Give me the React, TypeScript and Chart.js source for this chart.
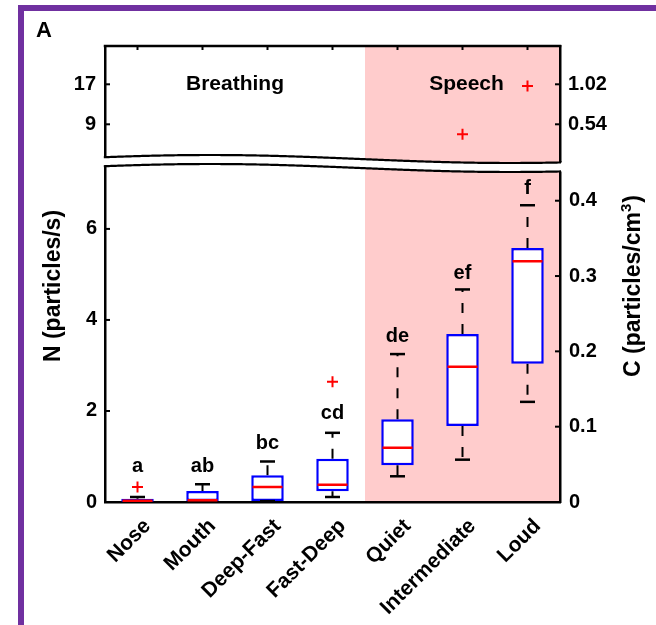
import React, { useEffect, useRef } from 'react';
import { Chart, registerables } from 'chart.js';
Chart.register(...registerables);

// ---- data ----
const categories = ['Nose', 'Mouth', 'Deep-Fast', 'Fast-Deep', 'Quiet', 'Intermediate', 'Loud'];
const whiskerLow = [0, 0.01, 0.02, 0.11, 0.565, 0.93, 2.2];
const q1 = [0.005, 0.02, 0.02, 0.235, 0.81, 1.67, 3.04];
const median = [0.03, 0.04, 0.33, 0.38, 1.19, 2.97, 5.29];
const q3 = [0.07, 0.24, 0.59, 0.95, 1.82, 3.69, 5.58];
const whiskerHigh = [0.11, 0.39, 0.89, 1.52, 3.25, 4.67, 6.52];
const outliersLow: (number | null)[] = [0.33, null, null, 2.64, null, null, null];
const outliersHigh: (number | null)[] = [null, null, null, null, null, 7.0, 16.66];
const letters = ['a', 'ab', 'bc', 'cd', 'de', 'ef', 'f'];
const letterY = [0.77, 0.78, 1.29, 1.95, 3.63, 5.03, 6.89];
const groupNames = ['Breathing', 'Speech'];
const leftTicksLow = [0, 2, 4, 6];
const leftTicksHigh = [9, 17];
const rightTicksLow = [0, 0.1, 0.2, 0.3, 0.4];
const rightTicksHigh = [0.54, 1.02];
const rangeLow = [0, 7.47];
const rangeHigh = [1.46, 24.66];
const rangeRightLow = [0, 0.4514];
const rangeRightHigh = [0.0876, 1.4796];

const FONT = '"Liberation Sans", Arial, sans-serif';
const BLUE = 'rgb(0,0,255)';
const RED = 'rgb(255,0,0)';
const PINK = 'rgb(255,204,204)';
const PURPLE = 'rgb(112,48,160)';

function fixedTicks(vals: number[]) {
  return (scale: any) => {
    scale.ticks = vals.map((v) => ({ value: v }));
  };
}
const plainLabel = (v: any) => String(v);

const decor = {
  id: 'decor',
  beforeDraw(chart: any) {
    const { ctx, chartArea: a, scales } = chart;
    ctx.save();
    ctx.fillStyle = '#fff';
    ctx.fillRect(0, 0, chart.width, chart.height);
    const x = scales.x;
    const xs = (x.getPixelForValue(3) + x.getPixelForValue(4)) / 2;
    ctx.fillStyle = PINK;
    ctx.fillRect(xs, a.top, a.right - xs, a.bottom - a.top);
    ctx.fillStyle = PURPLE;
    ctx.fillRect(18, 5, chart.width - 18, 6);
    ctx.fillRect(18, 5, 6, chart.height - 5);
    ctx.fillStyle = '#000';
    ctx.font = 'bold 22px ' + FONT;
    ctx.textAlign = 'left';
    ctx.textBaseline = 'alphabetic';
    ctx.fillText('A', 36, 37);
    ctx.restore();
  },
  afterDraw(chart: any) {
    const { ctx, chartArea: a, scales } = chart;
    const x = scales.x;
    const yBot = scales.yBot;
    const yTop = scales.yTop;
    const y2Bot = scales.y2Bot;
    const y2Top = scales.y2Top;
    ctx.save();

    // broken-axis wavy band
    const mid = yTop.bottom;
    const wave = (px: number) => mid - 3 - 4 * Math.cos((2 * Math.PI * (px - a.left - 105)) / 600);
    const gap = 9;
    const x0 = a.left - 4;
    const x1 = a.right + 4;
    ctx.beginPath();
    ctx.moveTo(x0, wave(x0));
    for (let px = x0; px <= x1; px++) ctx.lineTo(px, wave(px));
    for (let px = x1; px >= x0; px--) ctx.lineTo(px, wave(px) + gap);
    ctx.closePath();
    ctx.fillStyle = '#fff';
    ctx.fill();
    ctx.strokeStyle = '#000';
    ctx.lineWidth = 2.2;
    for (const off of [0, gap]) {
      ctx.beginPath();
      ctx.moveTo(a.left - 1.2, wave(a.left - 1.2) + off);
      for (let px = a.left; px <= a.right + 1.2; px++) ctx.lineTo(px, wave(px) + off);
      ctx.stroke();
    }

    // top border
    ctx.lineWidth = 2.5;
    ctx.beginPath();
    ctx.moveTo(a.left - 1.25, a.top);
    ctx.lineTo(a.right + 1.25, a.top);
    ctx.stroke();

    // inward tick marks
    ctx.lineWidth = 2;
    const tl = 5;
    for (const [sc, vals] of [[yBot, leftTicksLow], [yTop, leftTicksHigh]] as any) {
      for (const v of vals) {
        const py = sc.getPixelForValue(v);
        if (v === 0) continue;
        ctx.beginPath();
        ctx.moveTo(a.left, py);
        ctx.lineTo(a.left + tl, py);
        ctx.stroke();
      }
    }
    for (const [sc, vals] of [[y2Bot, rightTicksLow], [y2Top, rightTicksHigh]] as any) {
      for (const v of vals) {
        if (v === 0) continue;
        const py = sc.getPixelForValue(v);
        ctx.beginPath();
        ctx.moveTo(a.right, py);
        ctx.lineTo(a.right - tl, py);
        ctx.stroke();
      }
    }
    for (let i = 0; i < categories.length; i++) {
      const px = x.getPixelForValue(i);
      ctx.beginPath();
      ctx.moveTo(px, a.top);
      ctx.lineTo(px, a.top + 4);
      ctx.stroke();
    }

    // significance letters
    ctx.fillStyle = '#000';
    ctx.font = 'bold 20px ' + FONT;
    ctx.textAlign = 'center';
    ctx.textBaseline = 'middle';
    letters.forEach((t, i) => {
      ctx.fillText(t, x.getPixelForValue(i), yBot.getPixelForValue(letterY[i]));
    });

    // group names
    ctx.font = 'bold 21px ' + FONT;
    ctx.textBaseline = 'alphabetic';
    const gy = yTop.getPixelForValue(17) + 6;
    ctx.fillText(groupNames[0], (x.getPixelForValue(1) + x.getPixelForValue(2)) / 2, gy);
    ctx.fillText(groupNames[1], x.getPixelForValue(5) + 4, gy);

    // axis titles
    const cy = 286;
    ctx.font = 'bold 23px ' + FONT;
    ctx.save();
    ctx.translate(54, cy);
    ctx.rotate(-Math.PI / 2);
    ctx.textAlign = 'center';
    ctx.textBaseline = 'middle';
    ctx.fillText('N (particles/s)', 0, 0);
    ctx.restore();

    ctx.save();
    ctx.translate(632, cy);
    ctx.rotate(-Math.PI / 2);
    ctx.textAlign = 'left';
    ctx.textBaseline = 'alphabetic';
    const p1 = 'C (particles/cm';
    const p2 = '3';
    const p3 = ')';
    ctx.font = 'bold 23px ' + FONT;
    const w1 = ctx.measureText(p1).width;
    const w3 = ctx.measureText(p3).width;
    ctx.font = 'bold 15px ' + FONT;
    const w2 = ctx.measureText(p2).width;
    const total = w1 + w2 + w3 + 1;
    let sx = -total / 2;
    ctx.font = 'bold 23px ' + FONT;
    ctx.fillText(p1, sx, 8);
    sx += w1;
    ctx.font = 'bold 15px ' + FONT;
    ctx.fillText(p2, sx, -1);
    sx += w2 + 1;
    ctx.font = 'bold 23px ' + FONT;
    ctx.fillText(p3, sx, 8);
    ctx.restore();

    ctx.restore();
  },
};

export default function App() {
  const ref = useRef<HTMLCanvasElement>(null);
  useEffect(() => {
    const whiskerData: any[] = [];
    categories.forEach((c, i) => {
      whiskerData.push({ x: c, y: q3[i] }, { x: c, y: whiskerHigh[i] }, { x: c, y: null });
      whiskerData.push({ x: c, y: q1[i] }, { x: c, y: whiskerLow[i] }, { x: c, y: null });
    });
    const capData: any[] = [];
    categories.forEach((c, i) => {
      capData.push({ x: c, y: whiskerHigh[i] }, { x: c, y: whiskerLow[i] });
    });

    const tickFont = { family: FONT, weight: 'bold' as const, size: 20 };
    const border = { display: true, color: '#000', width: 2.5 };

    const chart = new Chart(ref.current as HTMLCanvasElement, {
      type: 'bar',
      data: {
        labels: categories,
        datasets: [
          {
            type: 'bar',
            label: 'IQR',
            data: categories.map((_, i) => [q1[i], q3[i]]) as any,
            yAxisID: 'yBot',
            backgroundColor: '#fff',
            borderColor: BLUE,
            borderWidth: 2.5,
            borderSkipped: false,
            barPercentage: 0.5,
            categoryPercentage: 1,
            order: 3,
          },
          {
            type: 'line',
            label: 'whiskers',
            data: whiskerData,
            yAxisID: 'yBot',
            borderColor: '#000',
            borderWidth: 2,
            borderDash: [10, 11],
            pointRadius: 0,
            spanGaps: false,
            order: 4,
          },
          {
            type: 'line',
            label: 'caps',
            data: capData,
            yAxisID: 'yBot',
            showLine: false,
            pointStyle: 'line',
            pointRadius: 7.5,
            pointBorderWidth: 2.5,
            pointBorderColor: '#000',
            order: 2,
          },
          {
            type: 'line',
            label: 'median',
            data: median,
            yAxisID: 'yBot',
            showLine: false,
            pointStyle: 'line',
            pointRadius: 15,
            pointBorderWidth: 2.5,
            pointBorderColor: RED,
            order: 1,
          },
          {
            type: 'line',
            label: 'outliers',
            data: outliersLow,
            yAxisID: 'yBot',
            showLine: false,
            pointStyle: 'cross',
            pointRadius: 5.5,
            pointBorderWidth: 2,
            pointBorderColor: RED,
            order: 0,
          },
          {
            type: 'line',
            label: 'outliers high',
            data: outliersHigh,
            yAxisID: 'yTop',
            showLine: false,
            pointStyle: 'cross',
            pointRadius: 5.5,
            pointBorderWidth: 2,
            pointBorderColor: RED,
            order: 0,
          },
        ],
      },
      options: {
        animation: false,
        responsive: false,
        devicePixelRatio: 1,
        events: [],
        layout: { padding: { top: 46, left: 0, right: 0, bottom: 0 } },
        plugins: { legend: { display: false }, tooltip: { enabled: false } },
        scales: {
          yBot: {
            type: 'linear',
            position: 'left',
            stack: 'L',
            stackWeight: 340,
            min: rangeLow[0],
            max: rangeLow[1],
            afterBuildTicks: fixedTicks(leftTicksLow),
            afterFit: (s: any) => { s.width = 105; },
            grid: { display: false, drawTicks: false },
            border,
            ticks: { font: tickFont, color: '#000', padding: 8, callback: plainLabel },
          },
          yTop: {
            type: 'linear',
            position: 'left',
            stack: 'L',
            stackWeight: 116,
            min: rangeHigh[0],
            max: rangeHigh[1],
            afterBuildTicks: fixedTicks(leftTicksHigh),
            afterFit: (s: any) => { s.width = 105; },
            grid: { display: false, drawTicks: false },
            border,
            ticks: { font: tickFont, color: '#000', padding: 9, callback: plainLabel },
          },
          y2Top: {
            type: 'linear',
            position: 'right',
            stack: 'R',
            stackWeight: 116,
            min: rangeRightHigh[0],
            max: rangeRightHigh[1],
            afterBuildTicks: fixedTicks(rightTicksHigh),
            afterFit: (s: any) => { s.width = 96; },
            grid: { display: false, drawTicks: false },
            border,
            ticks: { font: tickFont, color: '#000', padding: 8, callback: plainLabel },
          },
          y2Bot: {
            type: 'linear',
            position: 'right',
            stack: 'R',
            stackWeight: 340,
            min: rangeRightLow[0],
            max: rangeRightLow[1],
            afterBuildTicks: fixedTicks(rightTicksLow),
            afterFit: (s: any) => { s.width = 96; },
            grid: { display: false, drawTicks: false },
            border,
            ticks: { font: tickFont, color: '#000', padding: 9, callback: plainLabel },
          },
          x: {
            type: 'category',
            position: 'bottom',
            offset: true,
            afterFit: (s: any) => { s.height = 123; },
            grid: { display: false },
            border,
            ticks: {
              font: { family: FONT, weight: 'bold' as const, size: 21 },
              color: '#000',
              minRotation: 45,
              maxRotation: 45,
              autoSkip: false,
              padding: 4,
              labelOffset: 10,
            },
          },
        } as any,
      },
      plugins: [decor],
    });
    return () => chart.destroy();
  }, []);
  return (
    <div style={{ position: 'absolute', left: 0, top: 0, width: 656, height: 625, background: '#fff' }}>
      <canvas ref={ref} width={656} height={625} style={{ display: 'block', width: 656, height: 625 }} />
    </div>
  );
}
